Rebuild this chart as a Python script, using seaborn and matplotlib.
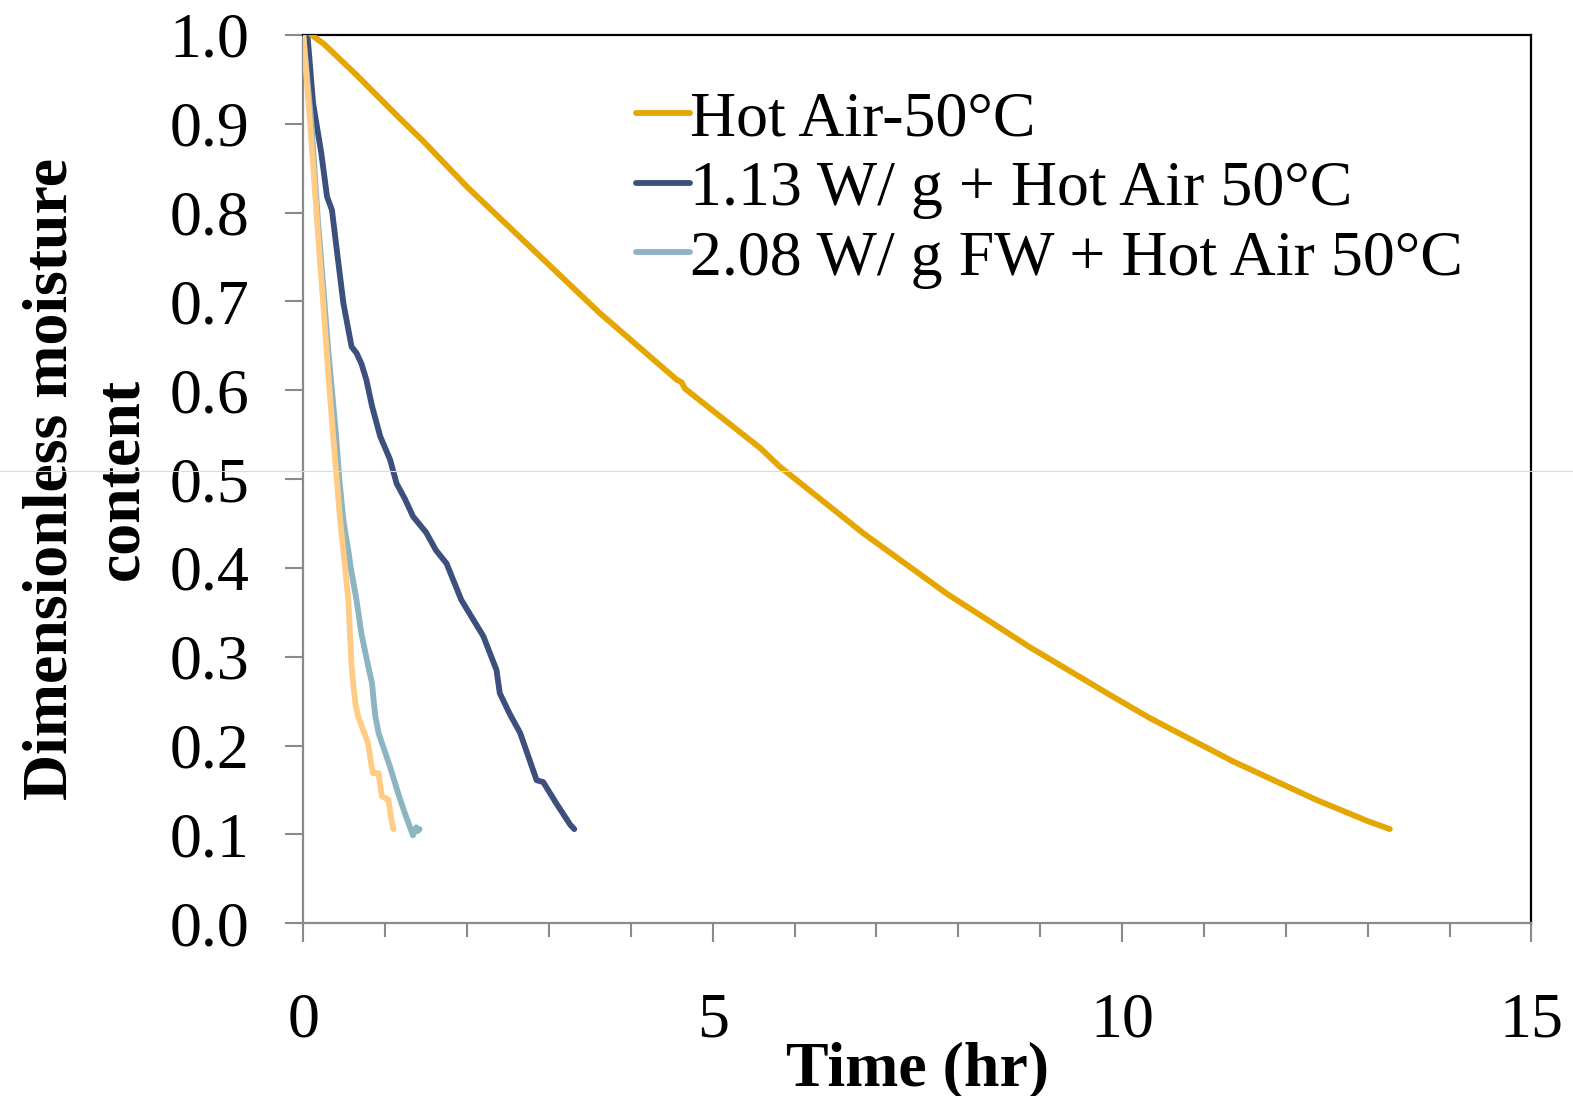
import numpy as np
import pandas as pd
import matplotlib
matplotlib.use("Agg")
import matplotlib.pyplot as plt
from matplotlib.lines import Line2D
import seaborn as sns

# ---- data ----
hot_air_t = [0.1, 0.25, 0.65, 1.18, 1.47, 2.0, 2.81, 3.62, 4.56, 4.62, 4.66, 5.58, 5.82, 6.84,
             7.86, 8.87, 9.89, 10.34, 11.36, 12.37, 13.0, 13.27]
hot_air_y = [1.0, 0.99, 0.955, 0.906, 0.88, 0.829, 0.758, 0.687, 0.612, 0.609, 0.602, 0.535,
             0.514, 0.439, 0.371, 0.311, 0.255, 0.231, 0.182, 0.139, 0.115, 0.106]

mw113_t = [0.05, 0.06, 0.12, 0.22, 0.29, 0.35, 0.42, 0.49, 0.59, 0.65, 0.71, 0.77, 0.84, 0.94,
           1.06, 1.14, 1.24, 1.34, 1.5, 1.62, 1.75, 1.93, 2.2, 2.36, 2.40, 2.52, 2.65, 2.85,
           2.93, 3.09, 3.26, 3.31]
mw113_y = [1.0, 0.99, 0.923, 0.867, 0.818, 0.803, 0.75, 0.698, 0.649, 0.642, 0.63, 0.612,
           0.582, 0.548, 0.522, 0.495, 0.478, 0.458, 0.44, 0.42, 0.405, 0.364, 0.323, 0.285,
           0.259, 0.236, 0.214, 0.161, 0.159, 0.135, 0.111, 0.106]

mw208_t = [0.0, 0.05, 0.1, 0.15, 0.18, 0.25, 0.3, 0.35, 0.4, 0.44, 0.49, 0.53, 0.55, 0.58,
           0.65, 0.71, 0.78, 0.84, 0.86, 0.88, 0.92, 1.06, 1.16, 1.24, 1.34, 1.38, 1.40, 1.42]
mw208_y = [1.0, 0.95, 0.9, 0.83, 0.79, 0.71, 0.65, 0.6, 0.55, 0.50, 0.454, 0.43, 0.42, 0.40,
           0.364, 0.326, 0.295, 0.270, 0.25, 0.233, 0.214, 0.176, 0.146, 0.124, 0.099, 0.108,
           0.104, 0.106]

extra_t = [0.0, 0.05, 0.1, 0.15, 0.2, 0.25, 0.3, 0.35, 0.4, 0.45, 0.5, 0.55, 0.57, 0.59,
           0.61, 0.64, 0.67, 0.73, 0.79, 0.82, 0.85, 0.92, 0.94, 0.96, 1.04, 1.07, 1.10]
extra_y = [1.0, 0.94, 0.88, 0.815, 0.75, 0.69, 0.625, 0.565, 0.51, 0.454, 0.41, 0.364, 0.326,
           0.29, 0.27, 0.245, 0.233, 0.218, 0.203, 0.185, 0.169, 0.169, 0.155, 0.143, 0.139,
           0.12, 0.106]

labels = ["Hot Air-50°C", "1.13 W/ g + Hot Air 50°C", "2.08 W/ g FW + Hot Air 50°C"]
colors = ["#E5A602", "#3D4F7C", "#8DB4C1", "#FFCB85"]

x_ticks = [0, 5, 10, 15]
y_ticks = [round(0.1 * i, 1) for i in range(11)]

# ---- plot ----
sns.set_style("white")
plt.rcParams["font.family"] = ["Liberation Serif", "DejaVu Serif"]
plt.rcParams["text.color"] = "black"
plt.rcParams["axes.labelcolor"] = "black"
plt.rcParams["xtick.color"] = "black"
plt.rcParams["ytick.color"] = "black"

fig = plt.figure(figsize=(15.73, 10.96), dpi=100)
ax = fig.add_axes([0.1928, 0.1576, 0.9736 - 0.1928, 0.9681 - 0.1576])

lw = 4.2
sns.lineplot(x=mw113_t, y=mw113_y, ax=ax, color=colors[1], lw=lw, sort=False,
             estimator=None, label=labels[1], zorder=3)
sns.lineplot(x=mw208_t, y=mw208_y, ax=ax, color=colors[2], lw=lw, sort=False,
             estimator=None, label=labels[2], zorder=4)
sns.lineplot(x=extra_t, y=extra_y, ax=ax, color=colors[3], lw=lw, sort=False,
             estimator=None, label="_nolegend_", zorder=5)
sns.lineplot(x=hot_air_t, y=hot_air_y, ax=ax, color=colors[0], lw=lw, sort=False,
             estimator=None, label=labels[0], zorder=6)

ax.set_xlim(0, 15)
ax.set_ylim(0, 1.0)
ax.set_xticks(x_ticks)
ax.set_xticks(np.arange(0, 16, 1), minor=True)
ax.set_yticks(y_ticks)
ax.set_yticklabels([f"{v:.1f}" for v in y_ticks])
ax.set_xticklabels([str(v) for v in x_ticks])

fs = 46
ax.tick_params(axis="x", which="major", direction="out", length=14, width=1.5,
               color="#8a8a8a", labelcolor="black", labelsize=fs, pad=36, bottom=True)
ax.tick_params(axis="x", which="minor", direction="out", length=10, width=1.5,
               color="#8a8a8a", bottom=True)
ax.tick_params(axis="y", which="major", direction="out", length=13, width=1.5,
               color="#8a8a8a", labelcolor="black", labelsize=fs, pad=26, left=True)

for s in ["left", "bottom"]:
    ax.spines[s].set_color("#8a8a8a")
    ax.spines[s].set_linewidth(1.6)
for s in ["top", "right"]:
    ax.spines[s].set_color("#000000")
    ax.spines[s].set_linewidth(1.6)
    ax.spines[s].set_visible(True)

ax.set_xlabel("Time (hr)", fontsize=fs, fontweight="bold", labelpad=-7, color="black")
ax.set_ylabel("Dimensionless moisture\ncontent", fontsize=fs, fontweight="bold",
              labelpad=13, linespacing=1.28, color="black")

handles, labs = ax.get_legend_handles_labels()
order = [labs.index(l) for l in labels]
leg = ax.legend([handles[i] for i in order], [labs[i] for i in order],
                loc="upper left", bbox_to_anchor=(0.271, 0.937), frameon=False,
                fontsize=fs, handlelength=0.85, handletextpad=0.0, labelspacing=0.17,
                borderpad=0, borderaxespad=0)
for t in leg.get_texts():
    t.set_color("black")

# faint horizontal guide line across the whole figure
fig.add_artist(Line2D([0, 1], [0.5703, 0.5703], transform=fig.transFigure,
                      color="#EFD9A6", lw=0.8, zorder=10))

fig.savefig("out.png", dpi=100)
